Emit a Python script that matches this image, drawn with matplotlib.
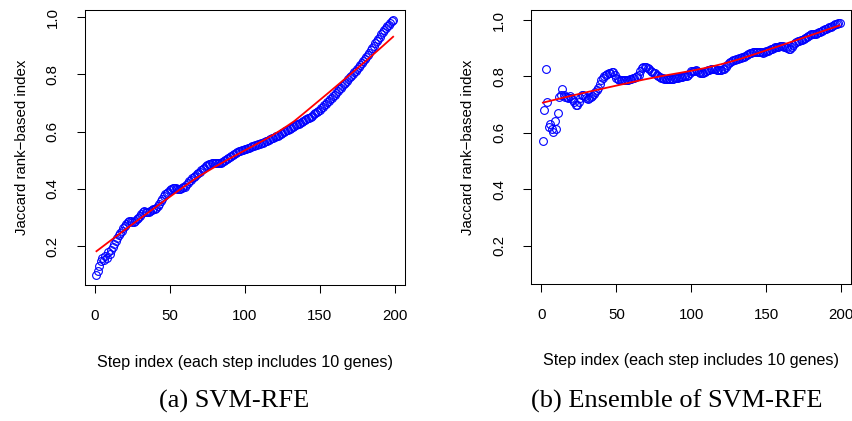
import numpy as np
import matplotlib
matplotlib.use("Agg")
import matplotlib.pyplot as plt

# Step indices (each step removes 10 genes)
steps = np.arange(1, 200)

# Jaccard rank-based index, plain SVM-RFE
svm_rfe = [
    0.100, 0.112, 0.130, 0.148, 0.158, 0.150, 0.166, 0.160, 0.178, 0.172,
    0.188, 0.196, 0.208, 0.218, 0.228, 0.238, 0.246, 0.254, 0.262, 0.270,
    0.277, 0.283, 0.287, 0.286, 0.284, 0.285, 0.289, 0.294, 0.299, 0.304,
    0.312, 0.319, 0.322, 0.320, 0.318, 0.320, 0.324, 0.327, 0.329, 0.331,
    0.334, 0.339, 0.347, 0.356, 0.366, 0.376, 0.383, 0.387, 0.390, 0.395,
    0.400, 0.403, 0.404, 0.403, 0.401, 0.400, 0.401, 0.403, 0.405, 0.408,
    0.413, 0.419, 0.426, 0.432, 0.437, 0.441, 0.446, 0.451, 0.456, 0.460,
    0.465, 0.470, 0.474, 0.478, 0.482, 0.486, 0.488, 0.490, 0.491, 0.490,
    0.489, 0.489, 0.490, 0.491, 0.493, 0.496, 0.499, 0.503, 0.507, 0.511,
    0.515, 0.519, 0.523, 0.526, 0.529, 0.531, 0.533, 0.535, 0.536, 0.538,
    0.540, 0.542, 0.544, 0.546, 0.548, 0.550, 0.552, 0.553, 0.555, 0.557,
    0.559, 0.561, 0.563, 0.566, 0.568, 0.570, 0.573, 0.576, 0.578, 0.580,
    0.583, 0.586, 0.589, 0.592, 0.595, 0.598, 0.601, 0.604, 0.607, 0.610,
    0.613, 0.616, 0.619, 0.622, 0.625, 0.628, 0.631, 0.634, 0.637, 0.640,
    0.643, 0.646, 0.649, 0.652, 0.656, 0.660, 0.664, 0.668, 0.672, 0.677,
    0.682, 0.687, 0.692, 0.697, 0.702, 0.707, 0.712, 0.717, 0.723, 0.729,
    0.735, 0.741, 0.747, 0.753, 0.759, 0.765, 0.771, 0.777, 0.783, 0.789,
    0.795, 0.801, 0.807, 0.813, 0.820, 0.827, 0.834, 0.841, 0.848, 0.855,
    0.862, 0.869, 0.876, 0.884, 0.892, 0.900, 0.908, 0.916, 0.924, 0.932,
    0.940, 0.947, 0.954, 0.961, 0.967, 0.973, 0.979, 0.985, 0.990,
]

# Jaccard rank-based index, ensemble of SVM-RFE
ensemble = [
    0.572, 0.681, 0.825, 0.710, 0.622, 0.630, 0.612, 0.604, 0.643, 0.615,
    0.669, 0.728, 0.734, 0.754, 0.734, 0.728, 0.726, 0.722, 0.730, 0.724,
    0.716, 0.710, 0.700, 0.699, 0.710, 0.724, 0.734, 0.733, 0.730, 0.725,
    0.720, 0.722, 0.728, 0.730, 0.738, 0.746, 0.752, 0.758, 0.772, 0.787,
    0.796, 0.802, 0.805, 0.808, 0.811, 0.813, 0.816, 0.817, 0.806, 0.793,
    0.790, 0.788, 0.787, 0.786, 0.788, 0.787, 0.787, 0.789, 0.790, 0.792,
    0.793, 0.795, 0.798, 0.802, 0.805, 0.818, 0.829, 0.833, 0.834, 0.832,
    0.829, 0.825, 0.821, 0.816, 0.813, 0.811, 0.806, 0.801, 0.797, 0.795,
    0.793, 0.792, 0.792, 0.791, 0.792, 0.790, 0.791, 0.792, 0.794, 0.795,
    0.796, 0.797, 0.798, 0.799, 0.800, 0.801, 0.801, 0.806, 0.812, 0.818,
    0.820, 0.821, 0.822, 0.820, 0.817, 0.814, 0.813, 0.813, 0.816, 0.820,
    0.822, 0.824, 0.826, 0.828, 0.827, 0.825, 0.823, 0.822, 0.822, 0.824,
    0.826, 0.828, 0.833, 0.840, 0.846, 0.852, 0.855, 0.857, 0.859, 0.861,
    0.863, 0.865, 0.867, 0.869, 0.870, 0.873, 0.876, 0.879, 0.882, 0.884,
    0.885, 0.886, 0.887, 0.888, 0.887, 0.886, 0.885, 0.884, 0.886, 0.889,
    0.892, 0.895, 0.897, 0.899, 0.901, 0.903, 0.905, 0.906, 0.907, 0.907,
    0.907, 0.906, 0.904, 0.901, 0.899, 0.898, 0.903, 0.910, 0.917, 0.923,
    0.925, 0.927, 0.929, 0.931, 0.932, 0.935, 0.939, 0.943, 0.947, 0.949,
    0.950, 0.951, 0.952, 0.953, 0.956, 0.959, 0.962, 0.965, 0.967, 0.969,
    0.971, 0.974, 0.976, 0.979, 0.982, 0.985, 0.987, 0.989, 0.991,
]

x_ticks = [0, 50, 100, 150, 200]
y_ticks = [0.2, 0.4, 0.6, 0.8, 1.0]
y_tick_labels = ["0.2", "0.4", "0.6", "0.8", "1.0"]
x_label = "Step index (each step includes 10 genes)"
y_label = "Jaccard rank\u2212based index"
captions = ["(a) SVM-RFE", "(b) Ensemble of SVM-RFE"]


def lowess(x, y, f=2 / 3, iters=3):
    """Locally weighted linear smoother (tricube kernel, bisquare robustness)."""
    x = np.asarray(x, float)
    y = np.asarray(y, float)
    n = len(x)
    r = int(np.ceil(f * n))
    robust = np.ones(n)
    fit = np.zeros(n)
    for _ in range(iters + 1):
        for i in range(n):
            d = np.abs(x - x[i])
            h = np.sort(d)[r - 1]
            w = np.clip(d / h, 0, 1)
            w = (1 - w ** 3) ** 3 * robust
            sw = w.sum()
            xm = (w * x).sum() / sw
            ym = (w * y).sum() / sw
            sxx = (w * (x - xm) ** 2).sum()
            b = (w * (x - xm) * (y - ym)).sum() / sxx if sxx > 0 else 0.0
            fit[i] = ym + b * (x[i] - xm)
        res = y - fit
        s = np.median(np.abs(res))
        u = np.clip(res / (6 * s), -1, 1)
        robust = (1 - u ** 2) ** 2
    return fit


SANS = "Liberation Sans"
SERIF = "Liberation Serif"
FS = 10.8
FS_LAB = 11.6

fig = plt.figure(figsize=(8.53, 4.21), dpi=100)

panels = [
    (svm_rfe, [84.6 / 853, 1 - 285 / 421, 320.4 / 853, 275.4 / 421], (0.064, 1.026), 234),
    (ensemble, [531 / 853, 1 - 284 / 421, 320.4 / 853, 274.1 / 421], (0.064, 1.036), 677),
]

for (vals, rect, ylim, cap_x), cap in zip(panels, captions):
    ax = fig.add_axes(rect)
    ax.plot(steps, vals, linestyle="none", marker="o", markersize=5.6,
            markerfacecolor="none", markeredgecolor="#0000ff",
            markeredgewidth=0.8)
    ax.plot(steps, lowess(steps, vals), color="#ff0000", linewidth=1.3)
    ax.set_xlim(-6.92, 206.92)
    ax.set_ylim(*ylim)
    ax.set_xticks(x_ticks)
    ax.set_xticklabels([str(t) for t in x_ticks], fontfamily=SANS, fontsize=FS)
    ax.set_yticks(y_ticks)
    ax.set_yticklabels(y_tick_labels, fontfamily=SANS, fontsize=FS,
                       rotation=90, va="center", ha="center")
    ax.tick_params(axis="both", direction="out", length=5.5, width=0.75,
                   color="black")
    ax.tick_params(axis="x", pad=11.5)
    ax.tick_params(axis="y", pad=17.5)
    for sp in ax.spines.values():
        sp.set_linewidth(0.75)
        sp.set_color("black")
    h_px = rect[3] * 421
    w_px = rect[2] * 853
    ax.set_xlabel(x_label, fontfamily=SANS, fontsize=FS_LAB)
    ax.xaxis.set_label_coords(0.5, -77 / h_px)
    ax.xaxis.label.set_va("center")
    ax.set_ylabel(y_label, fontfamily=SANS, fontsize=FS)
    ax.yaxis.set_label_coords(-62.6 / w_px, 0.5)
    ax.yaxis.label.set_va("center")
    fig.text(cap_x / 853, 1 - 401 / 421, cap, fontfamily=SERIF, fontsize=19,
             ha="center", va="center")

fig.savefig("out.png", dpi=100)
